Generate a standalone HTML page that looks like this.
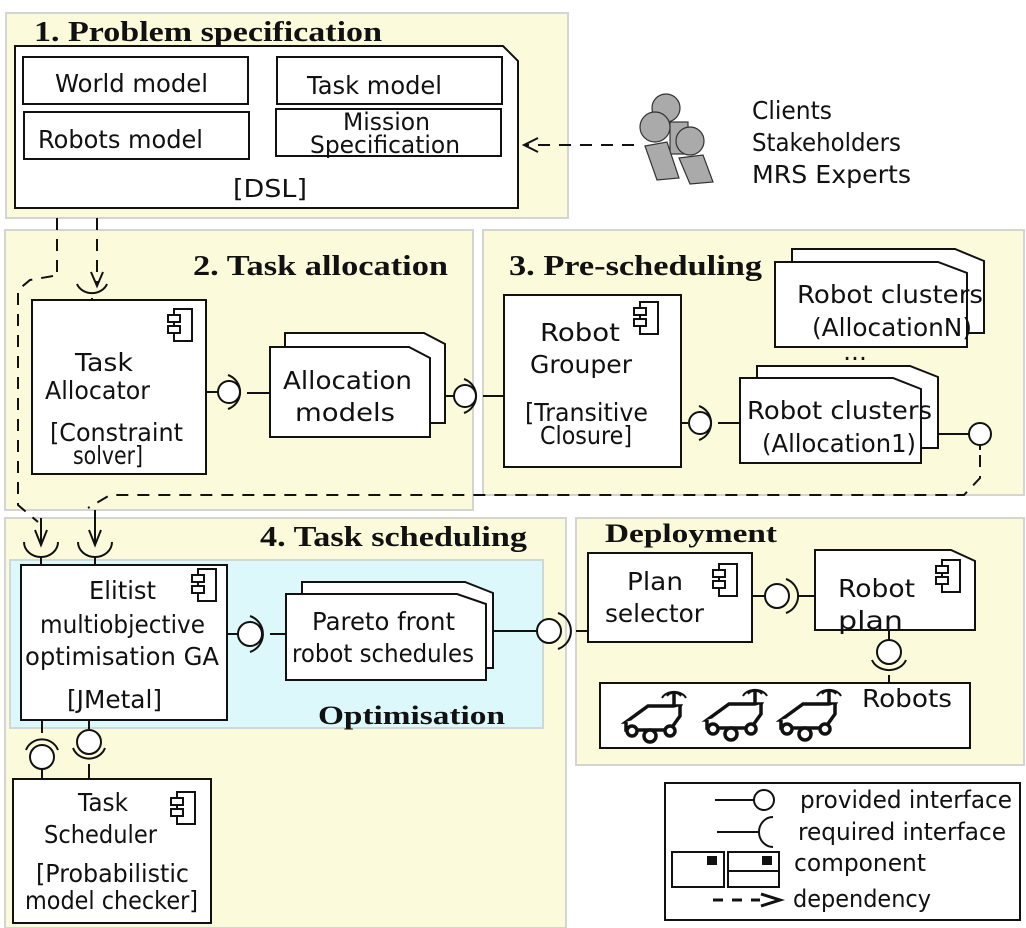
<!DOCTYPE html>
<html><head><meta charset="utf-8"><style>
html,body{margin:0;padding:0;background:#fff}
svg{display:block}
.s{font-family:"DejaVu Sans","Liberation Sans",sans-serif;font-size:25px;fill:#111}
.h{font-family:"Liberation Serif",serif;font-weight:bold;font-size:28px;fill:#111}
.box{fill:#fff;stroke:#111;stroke-width:2}
.ln{stroke:#111;stroke-width:2;fill:none}
.ds{stroke:#111;stroke-width:2;fill:none;stroke-dasharray:12 9}
.pan{fill:#fbfbdc;stroke:#d4d4d4;stroke-width:2}
</style></head><body>
<svg width="1026" height="928" viewBox="0 0 1026 928" xmlns="http://www.w3.org/2000/svg">
<defs>
<g id="ci"><rect x="6" y="0" width="18" height="32" fill="#fff" stroke="#111" stroke-width="2"/><rect x="0" y="6" width="12" height="7" fill="#fff" stroke="#111" stroke-width="2"/><rect x="0" y="17" width="12" height="7" fill="#fff" stroke="#111" stroke-width="2"/></g>
<g id="robot" stroke="#111" stroke-width="3.5" fill="#fff">
<path d="M4 34 L26 18 L58 18 L48 34 Z"/><path d="M4 34 L4 42 L48 42 L58 28 L58 18"/>
<circle cx="10" cy="43" r="5"/><circle cx="28" cy="48" r="6"/><circle cx="48" cy="43" r="5"/>
<line x1="52" y1="18" x2="52" y2="4"/>
<path d="M45 8 a8 6 0 0 1 14 0 M40 10 a13 10 0 0 1 24 0" fill="none" stroke-width="2"/>
</g>
</defs>

<rect class="pan" x="6" y="13" width="562" height="205"/>
<rect class="pan" x="5" y="230" width="468" height="280"/>
<rect class="pan" x="483" y="230" width="541" height="265"/>
<rect class="pan" x="5" y="518" width="561" height="410"/>
<rect class="pan" x="576" y="518" width="448" height="247"/>
<rect x="10" y="560" width="533" height="168" fill="#dcf8fb" stroke="#cfd8d8" stroke-width="2"/>

<text class="h" x="34" y="41" textLength="348" lengthAdjust="spacingAndGlyphs">1. Problem specification</text>
<text class="h" x="193" y="275" textLength="255" lengthAdjust="spacingAndGlyphs">2. Task allocation</text>
<text class="h" x="509" y="275" textLength="253" lengthAdjust="spacingAndGlyphs">3. Pre-scheduling</text>
<text class="h" x="260" y="546" textLength="267" lengthAdjust="spacingAndGlyphs">4. Task scheduling</text>
<text class="h" x="605" y="542" textLength="172" lengthAdjust="spacingAndGlyphs" style="font-size:26px">Deployment</text>
<text class="h" x="318" y="724" textLength="187" lengthAdjust="spacingAndGlyphs" style="font-size:26px">Optimisation</text>

<path class="box" d="M15 46 L503 46 L518 61 L518 208 L15 208 Z"/>
<rect class="box" x="23" y="57" width="225" height="47" stroke-width="1.5"/>
<rect class="box" x="24" y="112" width="225" height="47" stroke-width="1.5"/>
<rect class="box" x="277" y="57" width="225" height="47" stroke-width="1.5"/>
<rect class="box" x="276" y="109" width="225" height="47" stroke-width="1.5"/>
<text class="s" x="55" y="92" textLength="153" lengthAdjust="spacingAndGlyphs">World model</text>
<text class="s" x="38" y="148" textLength="165" lengthAdjust="spacingAndGlyphs">Robots model</text>
<text class="s" x="307" y="94" textLength="135" lengthAdjust="spacingAndGlyphs">Task model</text>
<text class="s" x="343" y="130" textLength="87" lengthAdjust="spacingAndGlyphs" style="font-size:24px">Mission</text>
<text class="s" x="310" y="153" textLength="150" lengthAdjust="spacingAndGlyphs" style="font-size:24px">Specification</text>
<text class="s" x="233" y="197" textLength="74" lengthAdjust="spacingAndGlyphs">[DSL]</text>

<g fill="#aaa" stroke="#333" stroke-width="1.2">
<circle cx="666" cy="108" r="14"/>
<rect x="670" y="122" width="18" height="32"/>
<path d="M645 146 L667 142 L679 178 L657 180 Z"/>
<circle cx="655" cy="127" r="15"/>
<path d="M679 158 L703 155 L713 182 L690 184 Z"/>
<circle cx="690" cy="141" r="14"/>
</g>
<text class="s" x="752" y="119" textLength="80" lengthAdjust="spacingAndGlyphs">Clients</text>
<text class="s" x="752" y="151" textLength="149" lengthAdjust="spacingAndGlyphs">Stakeholders</text>
<text class="s" x="752" y="183" textLength="159" lengthAdjust="spacingAndGlyphs">MRS Experts</text>
<line class="ds" x1="634" y1="145" x2="526" y2="145"/>
<path class="ln" d="M538 138 L524 145 L538 152"/>

<rect class="box" x="32" y="300" width="174" height="174"/>
<use href="#ci" x="168" y="309"/>
<text class="s" x="75" y="371" textLength="58" lengthAdjust="spacingAndGlyphs">Task</text>
<text class="s" x="45" y="399" textLength="105" lengthAdjust="spacingAndGlyphs">Allocator</text>
<text class="s" x="50" y="441" textLength="133" lengthAdjust="spacingAndGlyphs">[Constraint</text>
<text class="s" x="73" y="464" textLength="70" lengthAdjust="spacingAndGlyphs">solver]</text>
<path class="ln" d="M77 284 A16 14 0 0 0 107 284"/>
<line class="ln" x1="92" y1="298" x2="92" y2="300"/>
<line class="ds" x1="97" y1="218" x2="97" y2="284"/>
<path class="ln" d="M91 272 L97 286 L103 272"/>
<line class="ds" x1="57" y1="218" x2="57" y2="275"/>
<path class="ds" d="M53 276 L30 280 L18 290 L18 505 L38 522"/>
<line class="ln" x1="206" y1="392" x2="218" y2="392"/>
<circle class="box" cx="229" cy="392" r="11"/>
<path class="ln" d="M228 375 A18 18 0 0 1 228 409"/>
<line class="ln" x1="247" y1="393" x2="270" y2="393"/>
<path class="box" d="M285 347 L285 333 L424 333 L445 344 L445 423 L430 423"/>
<path class="box" d="M270 347 L409 347 L430 358 L430 437 L270 437 Z"/>
<text class="s" x="283" y="389" textLength="129" lengthAdjust="spacingAndGlyphs">Allocation</text>
<text class="s" x="295" y="421" textLength="100" lengthAdjust="spacingAndGlyphs">models</text>
<line class="ln" x1="445" y1="396" x2="454" y2="396"/>
<circle class="box" cx="465" cy="396" r="11"/>
<path class="ln" d="M464 379 A18 18 0 0 1 464 413"/>
<line class="ln" x1="483" y1="396" x2="504" y2="396"/>

<rect class="box" x="504" y="295" width="177" height="172"/>
<use href="#ci" x="634" y="302"/>
<text class="s" x="540" y="341" textLength="80" lengthAdjust="spacingAndGlyphs">Robot</text>
<text class="s" x="530" y="373" textLength="102" lengthAdjust="spacingAndGlyphs">Grouper</text>
<text class="s" x="525" y="421" textLength="123" lengthAdjust="spacingAndGlyphs">[Transitive</text>
<text class="s" x="540" y="444" textLength="92" lengthAdjust="spacingAndGlyphs">Closure]</text>
<line class="ln" x1="681" y1="423" x2="688" y2="423"/>
<circle class="box" cx="700" cy="423" r="11"/>
<path class="ln" d="M699 406 A18 18 0 0 1 699 440"/>
<line class="ln" x1="718" y1="423" x2="740" y2="423"/>

<path class="box" d="M757 378 L757 366 L910 366 L938 377 L938 448 L921 448"/>
<path class="box" d="M740 378 L893 378 L921 389 L921 463 L740 463 Z"/>
<text class="s" x="747" y="419" textLength="185" lengthAdjust="spacingAndGlyphs">Robot clusters</text>
<text class="s" x="762" y="452" textLength="154" lengthAdjust="spacingAndGlyphs">(Allocation1)</text>
<line class="ln" x1="938" y1="434" x2="969" y2="434"/>
<circle class="box" cx="980" cy="434" r="11"/>
<line class="ln" x1="980" y1="445" x2="980" y2="450"/>
<path class="ds" d="M980 455 L980 478 L964 495 L110 495 L88 508"/>

<path class="box" d="M792 262 L792 249 L955 249 L984 261 L984 333 L967 333"/>
<path class="box" d="M775 262 L938 262 L967 273 L967 347 L775 347 Z"/>
<text class="s" x="797" y="303" textLength="186" lengthAdjust="spacingAndGlyphs">Robot clusters</text>
<text class="s" x="812" y="336" textLength="160" lengthAdjust="spacingAndGlyphs">(AllocationN)</text>
<text class="s" x="855" y="360" text-anchor="middle">...</text>

<line class="ln" x1="41" y1="518" x2="41" y2="543"/>
<path class="ln" d="M35 530 L41 545 L47 530"/>
<path class="ln" d="M24 542 A17 15 0 0 0 58 542"/>
<line class="ln" x1="41" y1="557" x2="41" y2="565"/>
<line class="ln" x1="95" y1="510" x2="95" y2="543"/>
<path class="ln" d="M89 530 L95 545 L101 530"/>
<path class="ln" d="M78 542 A17 15 0 0 0 112 542"/>
<line class="ln" x1="95" y1="557" x2="95" y2="565"/>

<rect class="box" x="21" y="565" width="206" height="155"/>
<use href="#ci" x="192" y="569"/>
<text class="s" x="89" y="599" textLength="67" lengthAdjust="spacingAndGlyphs">Elitist</text>
<text class="s" x="40" y="633" textLength="165" lengthAdjust="spacingAndGlyphs">multiobjective</text>
<text class="s" x="25" y="665" textLength="194" lengthAdjust="spacingAndGlyphs">optimisation GA</text>
<text class="s" x="67" y="708" textLength="95" lengthAdjust="spacingAndGlyphs">[JMetal]</text>
<line class="ln" x1="227" y1="634" x2="238" y2="634"/>
<circle class="box" cx="250" cy="634" r="12"/>
<path class="ln" d="M250 616 A19 19 0 0 1 250 652"/>
<line class="ln" x1="270" y1="634" x2="286" y2="634"/>
<path class="box" d="M302 594 L302 582 L465 582 L493 593 L493 668 L486 668"/>
<path class="box" d="M286 594 L457 594 L486 604 L486 680 L286 680 Z"/>
<text class="s" x="312" y="630" textLength="143" lengthAdjust="spacingAndGlyphs">Pareto front</text>
<text class="s" x="292" y="662" textLength="182" lengthAdjust="spacingAndGlyphs">robot schedules</text>
<line class="ln" x1="493" y1="631" x2="537" y2="631"/>
<circle class="box" cx="549" cy="631" r="12"/>
<path class="ln" d="M558 613 A19 19 0 0 1 558 649"/>
<line class="ln" x1="576" y1="631" x2="588" y2="631"/>

<line class="ln" x1="42" y1="720" x2="42" y2="733"/>
<path class="ln" d="M26 750 A17 16 0 0 1 58 750"/>
<circle class="box" cx="42" cy="757" r="12"/>
<line class="ln" x1="42" y1="769" x2="42" y2="779"/>
<line class="ln" x1="89" y1="720" x2="89" y2="729"/>
<circle class="box" cx="89" cy="742" r="12"/>
<path class="ln" d="M73 748 A17 16 0 0 0 105 748"/>
<line class="ln" x1="89" y1="764" x2="89" y2="779"/>

<rect class="box" x="13" y="779" width="198" height="144"/>
<use href="#ci" x="171" y="792"/>
<text class="s" x="78" y="811" textLength="50" lengthAdjust="spacingAndGlyphs">Task</text>
<text class="s" x="44" y="843" textLength="113" lengthAdjust="spacingAndGlyphs">Scheduler</text>
<text class="s" x="36" y="882" textLength="153" lengthAdjust="spacingAndGlyphs">[Probabilistic</text>
<text class="s" x="25" y="909" textLength="173" lengthAdjust="spacingAndGlyphs">model checker]</text>

<rect class="box" x="588" y="553" width="164" height="89"/>
<use href="#ci" x="713" y="564"/>
<text class="s" x="627" y="590" textLength="56" lengthAdjust="spacingAndGlyphs">Plan</text>
<text class="s" x="605" y="622" textLength="99" lengthAdjust="spacingAndGlyphs">selector</text>
<line class="ln" x1="752" y1="596" x2="765" y2="596"/>
<circle class="box" cx="777" cy="596" r="12"/>
<path class="ln" d="M786 579 A18 18 0 0 1 786 613"/>
<line class="ln" x1="799" y1="596" x2="815" y2="596"/>
<path class="box" d="M815 550 L951 550 L975 561 L975 630 L815 630 Z"/>
<use href="#ci" x="936" y="560"/>
<text class="s" x="838" y="597" textLength="77" lengthAdjust="spacingAndGlyphs">Robot</text>
<text class="s" x="838" y="629" textLength="65" lengthAdjust="spacingAndGlyphs">plan</text>
<line class="ln" x1="889" y1="630" x2="889" y2="640"/>
<circle class="box" cx="889" cy="652" r="12"/>
<path class="ln" d="M872 660 A18 15 0 0 0 906 660"/>
<line class="ln" x1="889" y1="675" x2="889" y2="683"/>
<rect class="box" x="600" y="683" width="370" height="65"/>
<use href="#robot" x="622" y="688"/>
<use href="#robot" x="703" y="686"/>
<use href="#robot" x="777" y="686"/>
<text class="s" x="862" y="707" textLength="90" lengthAdjust="spacingAndGlyphs">Robots</text>

<rect class="box" x="665" y="783" width="355" height="137"/>
<line class="ln" x1="715" y1="800" x2="755" y2="800"/>
<circle class="box" cx="764" cy="800" r="10"/>
<text class="s" x="800" y="808" textLength="212" lengthAdjust="spacingAndGlyphs" style="font-size:24px">provided interface</text>
<line class="ln" x1="717" y1="832" x2="760" y2="832"/>
<path class="ln" d="M773 817 A14 15 0 0 0 773 847"/>
<text class="s" x="798" y="840" textLength="208" lengthAdjust="spacingAndGlyphs" style="font-size:24px">required interface</text>
<rect class="box" x="672" y="852" width="52" height="35"/>
<rect class="box" x="728" y="852" width="51" height="35"/>
<line class="ln" x1="728" y1="871" x2="779" y2="871"/>
<rect x="707" y="856" width="10" height="9" fill="#111"/>
<rect x="762" y="856" width="10" height="9" fill="#111"/>
<text class="s" x="794" y="871" textLength="132" lengthAdjust="spacingAndGlyphs" style="font-size:24px">component</text>
<line class="ds" x1="713" y1="900" x2="760" y2="900" style="stroke-dasharray:10 9;stroke-width:3"/>
<path class="ln" d="M761 894 L780 900 L761 906" style="stroke-width:3"/>
<text class="s" x="793" y="907" textLength="138" lengthAdjust="spacingAndGlyphs" style="font-size:24px">dependency</text>
</svg>
</body></html>
